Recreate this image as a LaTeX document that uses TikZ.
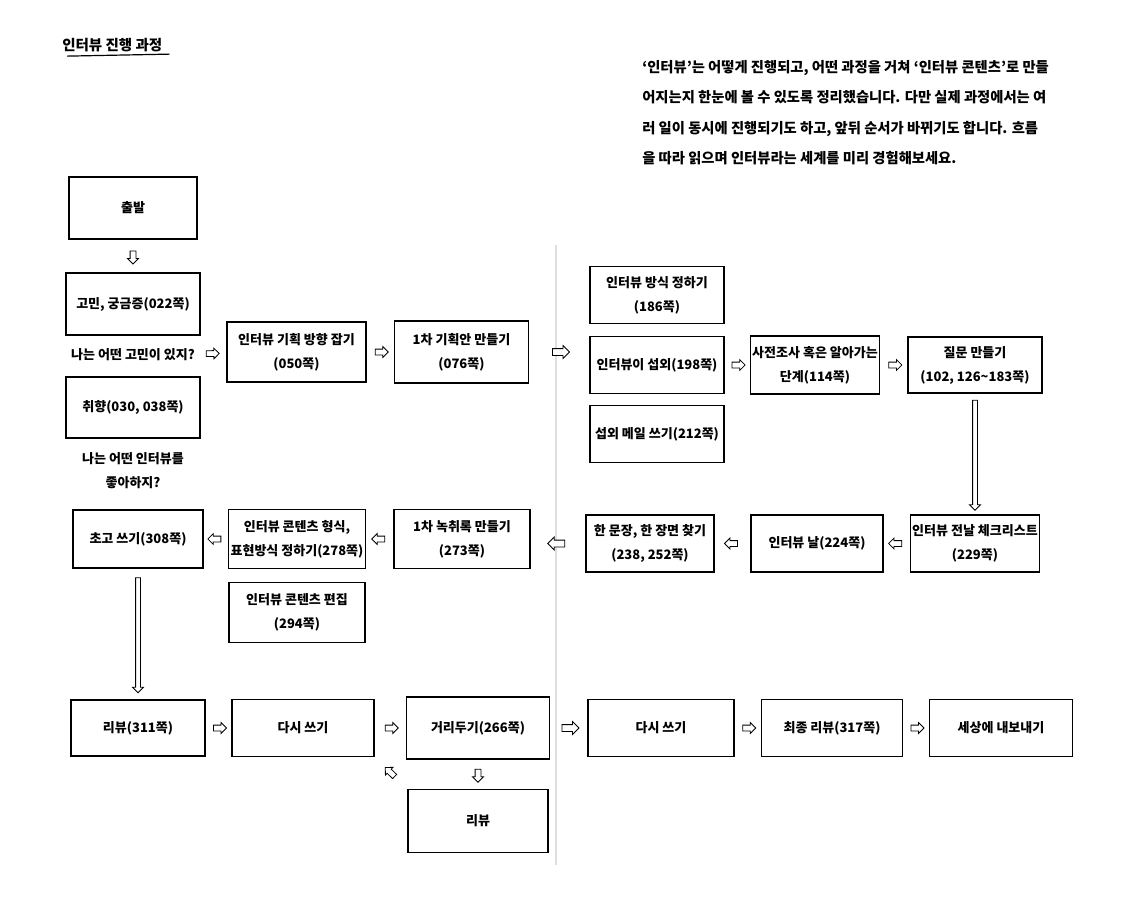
\documentclass[tikz,border=0pt]{standalone}
\usepackage{fontspec}
\setmainfont{Noto Sans CJK KR}
\usepackage{tikz}
\usetikzlibrary{arrows.meta, shapes.arrows, positioning}

\begin{document}
\begin{tikzpicture}[x=1pt, y=1pt, node distance=165pt, semithick]
\tikzstyle{every node}=[font=\fontsize{13}{24}\selectfont\bfseries]
\tikzstyle{box}=[draw=black, line width=1.1pt, fill=white, minimum width=134pt, minimum height=58pt, align=center, inner sep=2pt]
\tikzstyle{note}=[align=center, inner sep=1pt]
\tikzstyle{hollow}=[single arrow, draw=black, line width=0.8pt, fill=white, minimum width=10pt, minimum height=13pt, single arrow head extend=2.5pt, inner sep=2.5pt, sloped, allow upside down]
\tikzstyle{longhollow}=[hollow, inner sep=2pt, single arrow head extend=3pt]
\tikzstyle{foldhollow}=[hollow, minimum height=17pt, minimum width=12pt, inner sep=3pt, single arrow head extend=3pt]

\useasboundingbox (0,0) rectangle (1125,-904);
\draw[gray!25, line width=2pt] (556,-245) -- (556,-865);

\node[anchor=west, font=\fontsize{14.5}{16}\selectfont\bfseries, inner sep=1pt] (title) at (61,-45) {인터뷰 진행 과정};
\draw[line width=1.2pt] ([xshift=6pt, yshift=-3pt]title.south west) -- ([xshift=6pt, yshift=-1pt]title.south east);

\node[anchor=north west, align=left, inner sep=0pt, font=\fontsize{14.3}{30.5}\selectfont\bfseries] (intro) at (642,-60)
  {‘인터뷰’는 어떻게 진행되고, 어떤 과정을 거쳐 ‘인터뷰 콘텐츠’로 만들\\
   어지는지 한눈에 볼 수 있도록 정리했습니다. 다만 실제 과정에서는 여\\
   러 일이 동시에 진행되기도 하고, 앞뒤 순서가 바뀌기도 합니다. 흐름\\
   을 따라 읽으며 인터뷰라는 세계를 미리 경험해보세요.};

\node[box, minimum width=128pt, minimum height=62pt] (start) at (133,-208) {출발};
\node[box, minimum height=62pt, node distance=96pt, below of=start] (worry) {고민, 궁금증(022쪽)};
\node[note, node distance=51pt, below of=worry] (worryq) {나는 어떤 고민이 있지?};
\node[box, minimum height=61pt, node distance=52.5pt, below of=worryq] (taste) {취향(030, 038쪽)};
\node[note, node distance=63pt, below of=taste] (tasteq) {나는 어떤 인터뷰를\\좋아하지?};

\node[box, minimum width=139pt, minimum height=60pt] (plan) at (296.5,-352) {인터뷰 기획 방향 잡기\\(050쪽)};
\node[box, minimum height=62pt, right of=plan] (draft) {1차 기획안 만들기\\(076쪽)};

\node[box, minimum height=57pt] (recruit) at (657,-365) {인터뷰이 섭외(198쪽)};
\node[box, minimum height=57pt, node distance=70pt, above of=recruit] (method) {인터뷰 방식 정하기\\(186쪽)};
\node[box, minimum height=57pt, node distance=69pt, below of=recruit] (mail) {섭외 메일 쓰기(212쪽)};
\node[box, minimum width=127pt, node distance=158pt, right of=recruit] (research) {사전조사 혹은 알아가는\\단계(114쪽)};
\node[box, minimum height=56pt, node distance=160pt, right of=research] (questions) {질문 만들기\\(102, 126\textasciitilde183쪽)};

\node[box, minimum width=129pt, minimum height=57pt] (check) at (975,-543.5) {인터뷰 전날 체크리스트\\(229쪽)};
\node[box, minimum width=132pt, minimum height=57pt, node distance=158pt, left of=check] (day) {인터뷰 날(224쪽)};
\node[box, minimum width=128pt, minimum height=57pt, node distance=167pt, left of=day] (find) {한 문장, 한 장면 찾기\\(238, 252쪽)};
\node[box, minimum width=136pt, minimum height=59pt] (transcript) at (462,-539) {1차 녹취록 만들기\\(273쪽)};
\node[box, minimum width=136pt, minimum height=59pt, left of=transcript] (format) {인터뷰 콘텐츠 형식,\\표현방식 정하기(278쪽)};
\node[box, minimum width=136pt, minimum height=60pt, node distance=73.5pt, below of=format] (edit) {인터뷰 콘텐츠 편집\\(294쪽)};
\node[box, minimum width=130pt, node distance=159pt, left of=format] (firstdraft) {초고 쓰기(308쪽)};

\node[box, minimum height=56pt] (review) at (138,-728) {리뷰(311쪽)};
\node[box, minimum width=142pt, minimum height=57pt, right of=review] (rewrite) {다시 쓰기};
\node[box, minimum width=143pt, minimum height=62pt, node distance=175pt, right of=rewrite] (distance) {거리두기(266쪽)};
\node[box, minimum width=140pt, minimum height=63pt, node distance=93pt, below of=distance] (rereview) {리뷰};
\node[box, minimum width=146pt, minimum height=57pt, node distance=183pt, right of=distance] (rewritetwo) {다시 쓰기};
\node[box, minimum width=141pt, minimum height=57pt, node distance=171pt, right of=rewritetwo] (final) {최종 리뷰(317쪽)};
\node[box, minimum width=143pt, minimum height=57pt, node distance=169pt, right of=final] (publish) {세상에 내보내기};

\path (start) -- node[hollow] {} (worry);
\path (worryq) -- node[hollow] {} (plan);
\path (plan) -- node[hollow] {} (draft);
\path (draft.east) -- node[foldhollow] {} (recruit.west |- draft.east);
\path (recruit) -- node[hollow] {} (research);
\path (research) -- node[hollow] {} (questions);
\path (questions.south) -- node[longhollow, minimum height=110pt] {} (check.north);

\path (check) -- node[hollow] {} (day);
\path (day) -- node[hollow] {} (find);
\path (find.west) -- node[foldhollow] {} (transcript.east |- find.west);
\path (transcript) -- node[hollow] {} (format);
\path (format) -- node[hollow] {} (firstdraft);
\path (firstdraft.south) -- node[longhollow, minimum height=115pt] {} (review.north);

\path (review) -- node[hollow] {} (rewrite);
\path (rewrite) -- node[hollow] {} (distance);
\path (distance.south) -- node[hollow] {} (rereview.north);
\path (rereview.north west) -- node[hollow] {} (rewrite.south east);
\path (distance.east) -- node[foldhollow] {} (rewritetwo.west |- distance.east);
\path (rewritetwo) -- node[hollow] {} (final);
\path (final) -- node[hollow] {} (publish);
\end{tikzpicture}
\end{document}
